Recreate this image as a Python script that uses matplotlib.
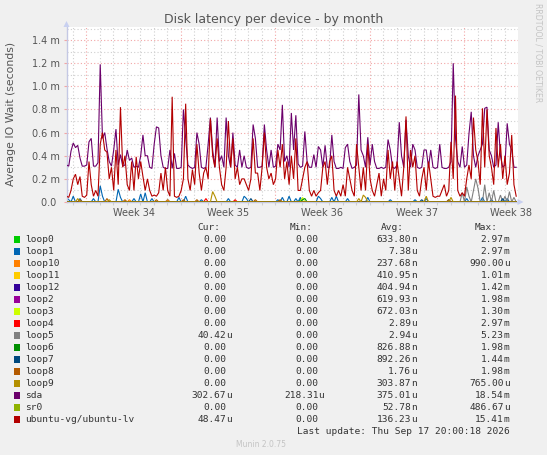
import matplotlib
matplotlib.use('Agg')
import matplotlib.pyplot as plt
import numpy as np
from matplotlib.patches import Rectangle, Polygon

# ---------------- data ----------------
STEP_DAYS = 4 / 24.0          # one sample every 4 hours
X_END_DAYS = 33.43            # visible span of the month graph
FIRST_WEEK_START = 1.47       # first Monday boundary (days from left edge)
week_labels = ["Week 34", "Week 35", "Week 36", "Week 37", "Week 38"]
y_ticks = [0.0, 0.2, 0.4, 0.6, 0.8, 1.0, 1.2, 1.4]
y_tick_labels = ["0.0 ", "0.2 m", "0.4 m", "0.6 m", "0.8 m", "1.0 m", "1.2 m", "1.4 m"]

# values in milliseconds (m)
sda = [
    0.32, 0.31, 0.44, 0.51, 0.47, 0.49, 0.38, 0.31, 0.31, 0.32,
    0.52, 0.55, 0.31, 0.31, 0.34, 1.19, 0.55, 0.60, 0.46, 0.35,
    0.31, 0.45, 0.63, 0.32, 0.41, 0.31, 0.32, 0.45, 0.36, 0.38,
    0.30, 0.31, 0.30, 0.40, 0.58, 0.40, 0.40, 0.30, 0.29, 0.50,
    0.65, 0.64, 0.40, 0.30, 0.29, 0.29, 0.45, 0.29, 0.42, 0.29,
    0.29, 0.30, 0.80, 0.55, 0.32, 0.30, 0.29, 0.30, 0.60, 0.50,
    0.30, 0.29, 0.30, 0.50, 0.73, 0.45, 0.30, 0.73, 0.35, 0.40,
    0.30, 0.73, 0.40, 0.30, 0.60, 0.32, 0.30, 0.45, 0.30, 0.40,
    0.30, 0.29, 0.30, 0.67, 0.55, 0.30, 0.30, 0.31, 0.67, 0.45,
    0.30, 0.45, 0.30, 0.31, 0.50, 0.45, 0.84, 0.35, 0.40, 0.30,
    0.77, 0.45, 0.75, 0.33, 0.30, 0.31, 0.61, 0.35, 0.30, 0.30,
    0.41, 0.30, 0.48, 0.45, 0.30, 0.49, 0.30, 0.30, 0.58, 0.35,
    0.29, 0.29, 0.30, 0.29, 0.47, 0.50, 0.35, 0.29, 0.30, 0.32,
    0.93, 0.45, 0.40, 0.30, 0.56, 0.32, 0.50, 0.35, 0.29, 0.29,
    0.30, 0.29, 0.30, 0.54, 0.45, 0.30, 0.29, 0.32, 0.69, 0.40,
    0.30, 0.71, 0.40, 0.30, 0.50, 0.45, 0.30, 0.29, 0.30, 0.45,
    0.45, 0.30, 0.45, 0.30, 0.29, 0.30, 0.50, 0.30, 0.29, 0.29,
    0.30, 0.35, 1.20, 0.55, 0.35, 0.30, 0.48, 0.30, 0.32, 0.59,
    0.78, 0.40, 0.30, 0.40, 0.45, 0.50, 0.81, 0.82, 0.45, 0.40,
    0.30, 0.32, 0.69, 0.40, 0.30, 0.32, 0.68, 0.50, 0.45, 0.30,
    0.30,
]
ubuntu_lv = [
    0.05, 0.04, 0.10, 0.20, 0.24, 0.15, 0.22, 0.05, 0.04, 0.06,
    0.35, 0.15, 0.05, 0.10, 0.05, 0.50, 0.60, 0.45, 0.43, 0.20,
    0.30, 0.10, 0.45, 0.15, 0.82, 0.30, 0.40, 0.15, 0.10, 0.35,
    0.10, 0.39, 0.20, 0.35, 0.22, 0.10, 0.20, 0.10, 0.05, 0.06,
    0.05, 0.08, 0.25, 0.10, 0.30, 0.10, 0.05, 0.91, 0.05, 0.04,
    0.05, 0.10, 0.20, 0.85, 0.20, 0.10, 0.28, 0.15, 0.50, 0.25,
    0.10, 0.25, 0.30, 0.20, 0.72, 0.40, 0.30, 0.55, 0.30, 0.15,
    0.10, 0.30, 0.70, 0.30, 0.55, 0.20, 0.30, 0.15, 0.20, 0.20,
    0.15, 0.10, 0.20, 0.55, 0.25, 0.25, 0.10, 0.30, 0.60, 0.30,
    0.20, 0.25, 0.15, 0.20, 0.45, 0.30, 0.50, 0.20, 0.35, 0.15,
    0.40, 0.20, 0.55, 0.10, 0.10, 0.20, 0.30, 0.35, 0.10, 0.05,
    0.10, 0.05, 0.08, 0.10, 0.30, 0.35, 0.15, 0.35, 0.40, 0.10,
    0.05, 0.10, 0.05, 0.15, 0.05, 0.30, 0.20, 0.10, 0.05, 0.50,
    0.30, 0.10, 0.30, 0.10, 0.50, 0.20, 0.10, 0.05, 0.15, 0.25,
    0.05, 0.20, 0.10, 0.45, 0.20, 0.35, 0.10, 0.35, 0.20, 0.05,
    0.30, 0.74, 0.10, 0.45, 0.30, 0.40, 0.10, 0.05, 0.20, 0.30,
    0.10, 0.35, 0.20, 0.05, 0.04, 0.05, 0.05, 0.10, 0.15, 0.05,
    0.10, 0.52, 0.20, 0.92, 0.10, 0.05, 0.08, 0.05, 0.20, 0.32,
    0.20, 0.73, 0.45, 0.35, 0.15, 0.81, 0.30, 0.80, 0.40, 0.30,
    0.15, 0.64, 0.30, 0.50, 0.20, 0.40, 0.15, 0.25, 0.58, 0.15,
    0.05,
]
# small devices: mostly zero, with sparse blips (sample index -> value)
loop0_at, loop0_val = [104], [0.02]
loop1_at = [0, 1, 3, 6, 12, 15, 16, 23, 24, 30, 33, 35, 38, 45, 50, 53, 60, 72, 79, 80,
            94, 96, 99, 102, 104, 112, 113, 118, 120, 125, 134, 144, 155, 160, 170, 178, 185, 189, 196]
loop1_val = [0.04, 0.02, 0.05, 0.03, 0.03, 0.14, 0.05, 0.11, 0.04, 0.03, 0.07, 0.08, 0.03, 0.02, 0.04,
             0.05, 0.02, 0.03, 0.05, 0.03, 0.02, 0.04, 0.05, 0.03, 0.04, 0.05, 0.03, 0.04, 0.05, 0.03,
             0.04, 0.02, 0.02, 0.03, 0.02, 0.03, 0.04, 0.02, 0.03]
loop10_at, loop10_val = [28, 45], [0.02, 0.02]
loop3_at, loop3_val = [105], [0.04]
loop4_at, loop4_val = [62, 75], [0.03, 0.02]
loop5_at = [176, 178, 179, 181, 182, 183, 186, 188, 190, 193, 195, 197, 199]
loop5_val = [0.08, 0.13, 0.05, 0.10, 0.20, 0.12, 0.15, 0.08, 0.10, 0.06, 0.05, 0.09, 0.04]
loop6_at, loop6_val = [105, 106], [0.02, 0.03]
loop7_at, loop7_val = [82, 158, 194], [0.03, 0.02, 0.03]
loop8_at, loop8_val = [6, 18, 26, 40, 52, 58, 84, 95, 170], [0.02, 0.03, 0.02, 0.02, 0.02, 0.02, 0.02, 0.02, 0.02]
loop9_at, loop9_val = [5, 19, 65, 66, 130, 132, 133, 160, 171], [0.03, 0.02, 0.09, 0.05, 0.03, 0.06, 0.04, 0.05, 0.04]

names = ["loop0", "loop1", "loop10", "loop11", "loop12", "loop2", "loop3", "loop4",
         "loop5", "loop6", "loop7", "loop8", "loop9", "sda", "sr0", "ubuntu-vg/ubuntu-lv"]
colors = ["#00CC00", "#0066B3", "#FF8000", "#FFCC00", "#330099", "#990099", "#CCFF00", "#FF0000",
          "#808080", "#008F00", "#00487D", "#B35A00", "#B38F00", "#6B006B", "#8FB300", "#B30000"]
cur_vals = ["0.00", "0.00", "0.00", "0.00", "0.00", "0.00", "0.00", "0.00",
            "40.42u", "0.00", "0.00", "0.00", "0.00", "302.67u", "0.00", "48.47u"]
min_vals = ["0.00"] * 13 + ["218.31u", "0.00", "0.00"]
avg_vals = ["633.80n", "7.38u", "237.68n", "410.95n", "404.94n", "619.93n", "672.03n", "2.89u",
            "2.94u", "826.88n", "892.26n", "1.76u", "303.87n", "375.01u", "52.78n", "136.23u"]
max_vals = ["2.97m", "2.97m", "990.00u", "1.01m", "1.42m", "1.98m", "1.30m", "2.97m",
            "5.23m", "1.98m", "1.44m", "1.98m", "765.00u", "18.54m", "486.67u", "15.41m"]

# ---------------- figure ----------------
W, H = 547, 455
fig = plt.figure(figsize=(W / 100, H / 100), dpi=100, facecolor="#F0F0F0")


def fx(px):
    return px / W


def fy(py):
    return 1 - py / H


L, R, T, B = 66.5, 517.5, 27.0, 202.0
ax = fig.add_axes([fx(L), fy(B), (R - L) / W, (B - T) / H])
ax.set_facecolor("white")
ax.set_xlim(0, X_END_DAYS)
ax.set_ylim(0, 1.513)

n = len(sda)
t = np.arange(n) * STEP_DAYS


def sparse(at, val):
    s = np.zeros(n)
    s[list(at)] = val
    return s


series = {
    "loop0": sparse(loop0_at, loop0_val),
    "loop1": sparse(loop1_at, loop1_val),
    "loop10": sparse(loop10_at, loop10_val),
    "loop11": np.zeros(n),
    "loop12": np.zeros(n),
    "loop2": np.zeros(n),
    "loop3": sparse(loop3_at, loop3_val),
    "loop4": sparse(loop4_at, loop4_val),
    "loop5": sparse(loop5_at, loop5_val),
    "loop6": sparse(loop6_at, loop6_val),
    "loop7": sparse(loop7_at, loop7_val),
    "loop8": sparse(loop8_at, loop8_val),
    "loop9": sparse(loop9_at, loop9_val),
    "sda": np.array(sda),
    "sr0": np.zeros(n),
    "ubuntu-vg/ubuntu-lv": np.array(ubuntu_lv),
}

# grid
minor_c = "#CFCFCF"
major_c = "#F2A6A6"
dots = (0, (1, 2))
day_pos = []
week_flags = []
d = FIRST_WEEK_START - np.floor(FIRST_WEEK_START)
while d < X_END_DAYS:
    is_week = abs(((d - FIRST_WEEK_START) / 7.0) - round((d - FIRST_WEEK_START) / 7.0)) < 1e-6
    ax.axvline(d, color=major_c if is_week else minor_c, lw=0.8, ls=dots, zorder=0.5)
    day_pos.append(d)
    week_flags.append(is_week)
    d += 1.0
for k in range(1, 16):
    v = k * 0.1
    ax.axhline(v, color=major_c if k % 2 == 0 else minor_c, lw=0.8, ls=dots, zorder=0.5)

# lines
for i, name in enumerate(names):
    ax.plot(t, series[name], color=colors[i], lw=0.8, zorder=2 + i * 0.1, solid_joinstyle="miter")

# axes styling
for s in ["top", "right"]:
    ax.spines[s].set_visible(False)
for s in ["left", "bottom"]:
    ax.spines[s].set_color("#C4C8E4")
    ax.spines[s].set_linewidth(1.0)

ax.set_yticks(y_ticks)
ax.set_yticklabels(y_tick_labels)
ax.tick_params(axis="y", length=2, color=major_c, pad=3.0, labelsize=7, labelcolor="#555555")
ax.set_xticks([FIRST_WEEK_START + 3.5 + 7 * k for k in range(len(week_labels))])
ax.set_xticklabels(week_labels)
ax.tick_params(axis="x", which="major", length=0, pad=4, labelsize=7, labelcolor="#555555")
ax.set_xticks(day_pos, minor=True)
ax.tick_params(axis="x", which="minor", length=2.2, width=0.8, color=minor_c)
for tk, wk in zip(ax.xaxis.get_minor_ticks(), week_flags):
    if wk:
        tk.tick1line.set_color(major_c)
for lab in ax.get_yticklabels() + ax.get_xticklabels():
    lab.set_family("DejaVu Sans")

# axis arrows
arrow_c = "#C8D0F0"
fig.patches.append(Polygon([(fx(L - 3), fy(T)), (fx(L + 3), fy(T)), (fx(L), fy(T - 6))],
                           closed=True, transform=fig.transFigure, fc=arrow_c, ec="none"))
fig.patches.append(Polygon([(fx(R), fy(B - 3)), (fx(R), fy(B + 3)), (fx(R + 6), fy(B))],
                           closed=True, transform=fig.transFigure, fc=arrow_c, ec="none"))

# title, labels
fig.text(fx(273.5), fy(19), "Disk latency per device - by month", ha="center", va="center",
         fontsize=9, color="#555555", family="DejaVu Sans")
fig.text(fx(11), fy(114), "Average IO Wait (seconds)", ha="center", va="center", rotation=90,
         fontsize=7.8, color="#555555", family="DejaVu Sans")
fig.text(fx(538), fy(53), "RRDTOOL / TOBI OETIKER", ha="center", va="center", rotation=-90,
         fontsize=5.6, color="#C4C4C4", family="DejaVu Sans")
fig.text(fx(261), fy(444.3), "Munin 2.0.75", ha="center", va="center",
         fontsize=5.5, color="#C4C4C4", family="DejaVu Sans")

# legend
mono = "DejaVu Sans Mono"
fs = 6.8
tc = "#333333"
cw = 5.67
row0, dy = 239.3, 12.0
hdr_y = 227.7
for label, xr in zip(["Cur:", "Min:", "Avg:", "Max:"], [220.0, 312.3, 404.3, 497.3]):
    fig.text(fx(xr), fy(hdr_y), label, ha="right", va="center", fontsize=fs, color=tc, family=mono)

col_edges = [231.7, 324.0, 416.7, 509.3]
for i, name in enumerate(names):
    y = row0 + dy * i
    fig.patches.append(Rectangle((fx(13.5), fy(y + 3.2)), 6.2 / W, 6.4 / H, transform=fig.transFigure,
                                 fc=colors[i], ec="none"))
    fig.text(fx(25), fy(y), name, ha="left", va="center", fontsize=fs, color=tc, family=mono)
    for vals, edge in zip([cur_vals, min_vals, avg_vals, max_vals], col_edges):
        v = vals[i]
        if v[-1] in "munk":
            num, suf = v[:-1], v[-1]
        else:
            num, suf = v, ""
        fig.text(fx(edge - cw), fy(y), num, ha="right", va="center", fontsize=fs, color=tc, family=mono)
        if suf:
            fig.text(fx(edge - cw), fy(y), suf, ha="left", va="center", fontsize=fs, color=tc, family=mono)

fig.text(fx(509.3), fy(431.7), "Last update: Thu Sep 17 20:00:18 2026", ha="right", va="center",
         fontsize=fs, color=tc, family=mono)

fig.savefig("out.png", dpi=100, facecolor=fig.get_facecolor())
